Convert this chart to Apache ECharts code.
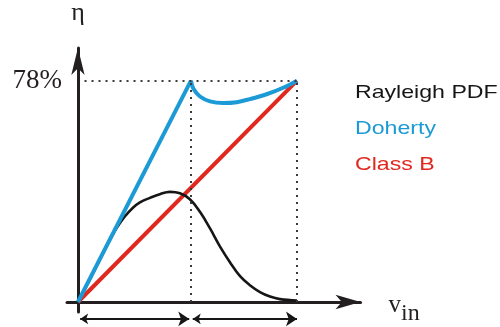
<!DOCTYPE html>
<html><head><meta charset="utf-8">
<script src="https://cdn.jsdelivr.net/npm/echarts@6/dist/echarts.min.js"></script>
<style>html,body{margin:0;padding:0;background:#fff}#c{width:500px;height:327px}</style>
</head><body><div id="c"></div>
<script>
// ---- data ----
const seriesNames = ['Rayleigh PDF', 'Doherty', 'Class B'];
const classBX = [0, 1.0];
const classBY = [0, 78];
const dohertyX = [0, 0.516, 0.526, 0.557, 0.603, 0.662, 0.725, 0.785, 0.861, 0.937, 1.0];
const dohertyY = [0, 78, 75.3, 72.4, 70.7, 70.1, 70.4, 71.5, 73.2, 75.5, 78];
const dohertyPeakIndex = 1;
const rayleighX = [0, 0.055, 0.114, 0.146, 0.178, 0.214, 0.251, 0.283, 0.329, 0.374, 0.420, 0.466, 0.511, 0.557, 0.603, 0.648, 0.694, 0.740, 0.785, 0.831, 0.877, 0.922, 1.0];
const rayleighY = [0, 8.0, 17.1, 21.9, 26.2, 30.1, 33.2, 35.1, 36.7, 38.0, 38.8, 38.3, 36.2, 31.8, 25.9, 19.6, 14.0, 9.1, 5.9, 3.5, 1.9, 1.0, 0.5];
const etaTicks = [78];          // only labelled efficiency value
const vinBreak = 0.516;         // Doherty transition (dotted line)
const vinMax = 1.0;             // peak drive (dotted line)
const rangeArrowY = -5.95;      // level of the range arrows under the axis

const zip = (xs, ys) => xs.map((x, i) => [x, ys[i]]);
const C_BLUE = '#1c9ad6', C_RED = '#e0281e', C_BLACK = '#161616', C_AXIS = '#231f20';
const X_MIN = -0.05, X_MAX = 1.29;

const chart = echarts.init(document.getElementById('c'), null, {renderer: 'canvas'});
chart.setOption({
  animation: false,
  backgroundColor: '#fff',
  grid: [
    {left: 67, right: 139.5, top: 46, bottom: 15.1},
    {left: 67, right: 139.5, top: 311.9, bottom: 0}
  ],
  xAxis: [{
    type: 'value', min: X_MIN, max: X_MAX, gridIndex: 0,
    splitLine: {show: false}, axisTick: {show: false}, axisLabel: {show: false},
    axisLine: {onZero: true, symbol: ['none', 'arrow'], symbolSize: [11, 25],
      lineStyle: {color: C_AXIS, width: 3}},
    name: '{v|v}{s|in}', nameLocation: 'end', nameGap: 28,
    nameTextStyle: {
      padding: [14, 0, 0, 0],
      rich: {
        v: {fontFamily: 'Liberation Serif', fontSize: 25, color: C_AXIS, lineHeight: 25, verticalAlign: 'top'},
        s: {fontFamily: 'Liberation Serif', fontSize: 24, color: C_AXIS, lineHeight: 33, verticalAlign: 'bottom'}
      }
    }
  }, {
    type: 'value', min: X_MIN, max: X_MAX, gridIndex: 1, show: false
  }],
  yAxis: [{
    type: 'value', min: -3.5, max: 89.5, gridIndex: 0,
    splitLine: {show: false}, axisTick: {show: false},
    axisLabel: {show: true, customValues: etaTicks, formatter: '{value}%', margin: 5,
      fontFamily: 'Liberation Serif', fontSize: 27, color: C_AXIS, padding: [0, 0, 8, 0]},
    axisLine: {onZero: true, symbol: ['none', 'arrow'], symbolSize: [10, 27],
      lineStyle: {color: C_AXIS, width: 3}},
    name: 'η', nameLocation: 'end', nameGap: 22,
    nameTextStyle: {fontFamily: 'Liberation Serif', fontSize: 26, color: C_AXIS, align: 'center'}
  }, {
    type: 'value', min: -8.75, max: -3.5, gridIndex: 1, show: false
  }],
  series: [
    {
      name: seriesNames[2], type: 'line', data: zip(classBX, classBY), symbol: 'none',
      lineStyle: {color: C_RED, width: 4}, itemStyle: {color: C_RED},
      markLine: {
        silent: true, symbol: ['none', 'none'], label: {show: false},
        lineStyle: {color: '#3a3a3a', width: 2, type: [2, 5]},
        data: [
          [{coord: [0.03, etaTicks[0]]}, {coord: [vinMax, etaTicks[0]]}],
          [{coord: [vinBreak, 0]}, {coord: [vinBreak, etaTicks[0]]}],
          [{coord: [vinMax, 0]}, {coord: [vinMax, etaTicks[0]]}]
        ]
      }
    },
    {
      name: seriesNames[0], type: 'line', data: zip(rayleighX, rayleighY), symbol: 'none', smooth: 0.4,
      lineStyle: {color: C_BLACK, width: 2.6}, itemStyle: {color: C_BLACK}
    },
    {
      name: seriesNames[1], type: 'line', data: zip(dohertyX, dohertyY).slice(0, dohertyPeakIndex + 1), symbol: 'none',
      lineStyle: {color: C_BLUE, width: 4}, itemStyle: {color: C_BLUE}
    },
    {
      name: seriesNames[1], type: 'line', data: zip(dohertyX, dohertyY).slice(dohertyPeakIndex), symbol: 'none', smooth: 0.35,
      lineStyle: {color: C_BLUE, width: 4}, itemStyle: {color: C_BLUE}
    },
    {
      name: 'ranges', type: 'lines', coordinateSystem: 'cartesian2d', xAxisIndex: 1, yAxisIndex: 1,
      silent: true, symbol: ['arrow', 'arrow'], symbolSize: [8, 11],
      lineStyle: {color: C_BLACK, width: 1.8, opacity: 1},
      data: [
        {coords: [[0.01, rangeArrowY], [vinBreak - 0.008, rangeArrowY]]},
        {coords: [[vinBreak + 0.008, rangeArrowY], [vinMax, rangeArrowY]]}
      ]
    }
  ],
  graphic: [
    {type: 'text', left: 355, top: 83, scaleX: 1.25,
      style: {text: seriesNames[0], fontFamily: 'Liberation Sans', fontSize: 18.5, fill: C_BLACK}},
    {type: 'text', left: 355, top: 119, scaleX: 1.25,
      style: {text: seriesNames[1], fontFamily: 'Liberation Sans', fontSize: 18.5, fill: C_BLUE}},
    {type: 'text', left: 355, top: 155, scaleX: 1.25,
      style: {text: seriesNames[2], fontFamily: 'Liberation Sans', fontSize: 18.5, fill: C_RED}}
  ]
});
</script></body></html>
